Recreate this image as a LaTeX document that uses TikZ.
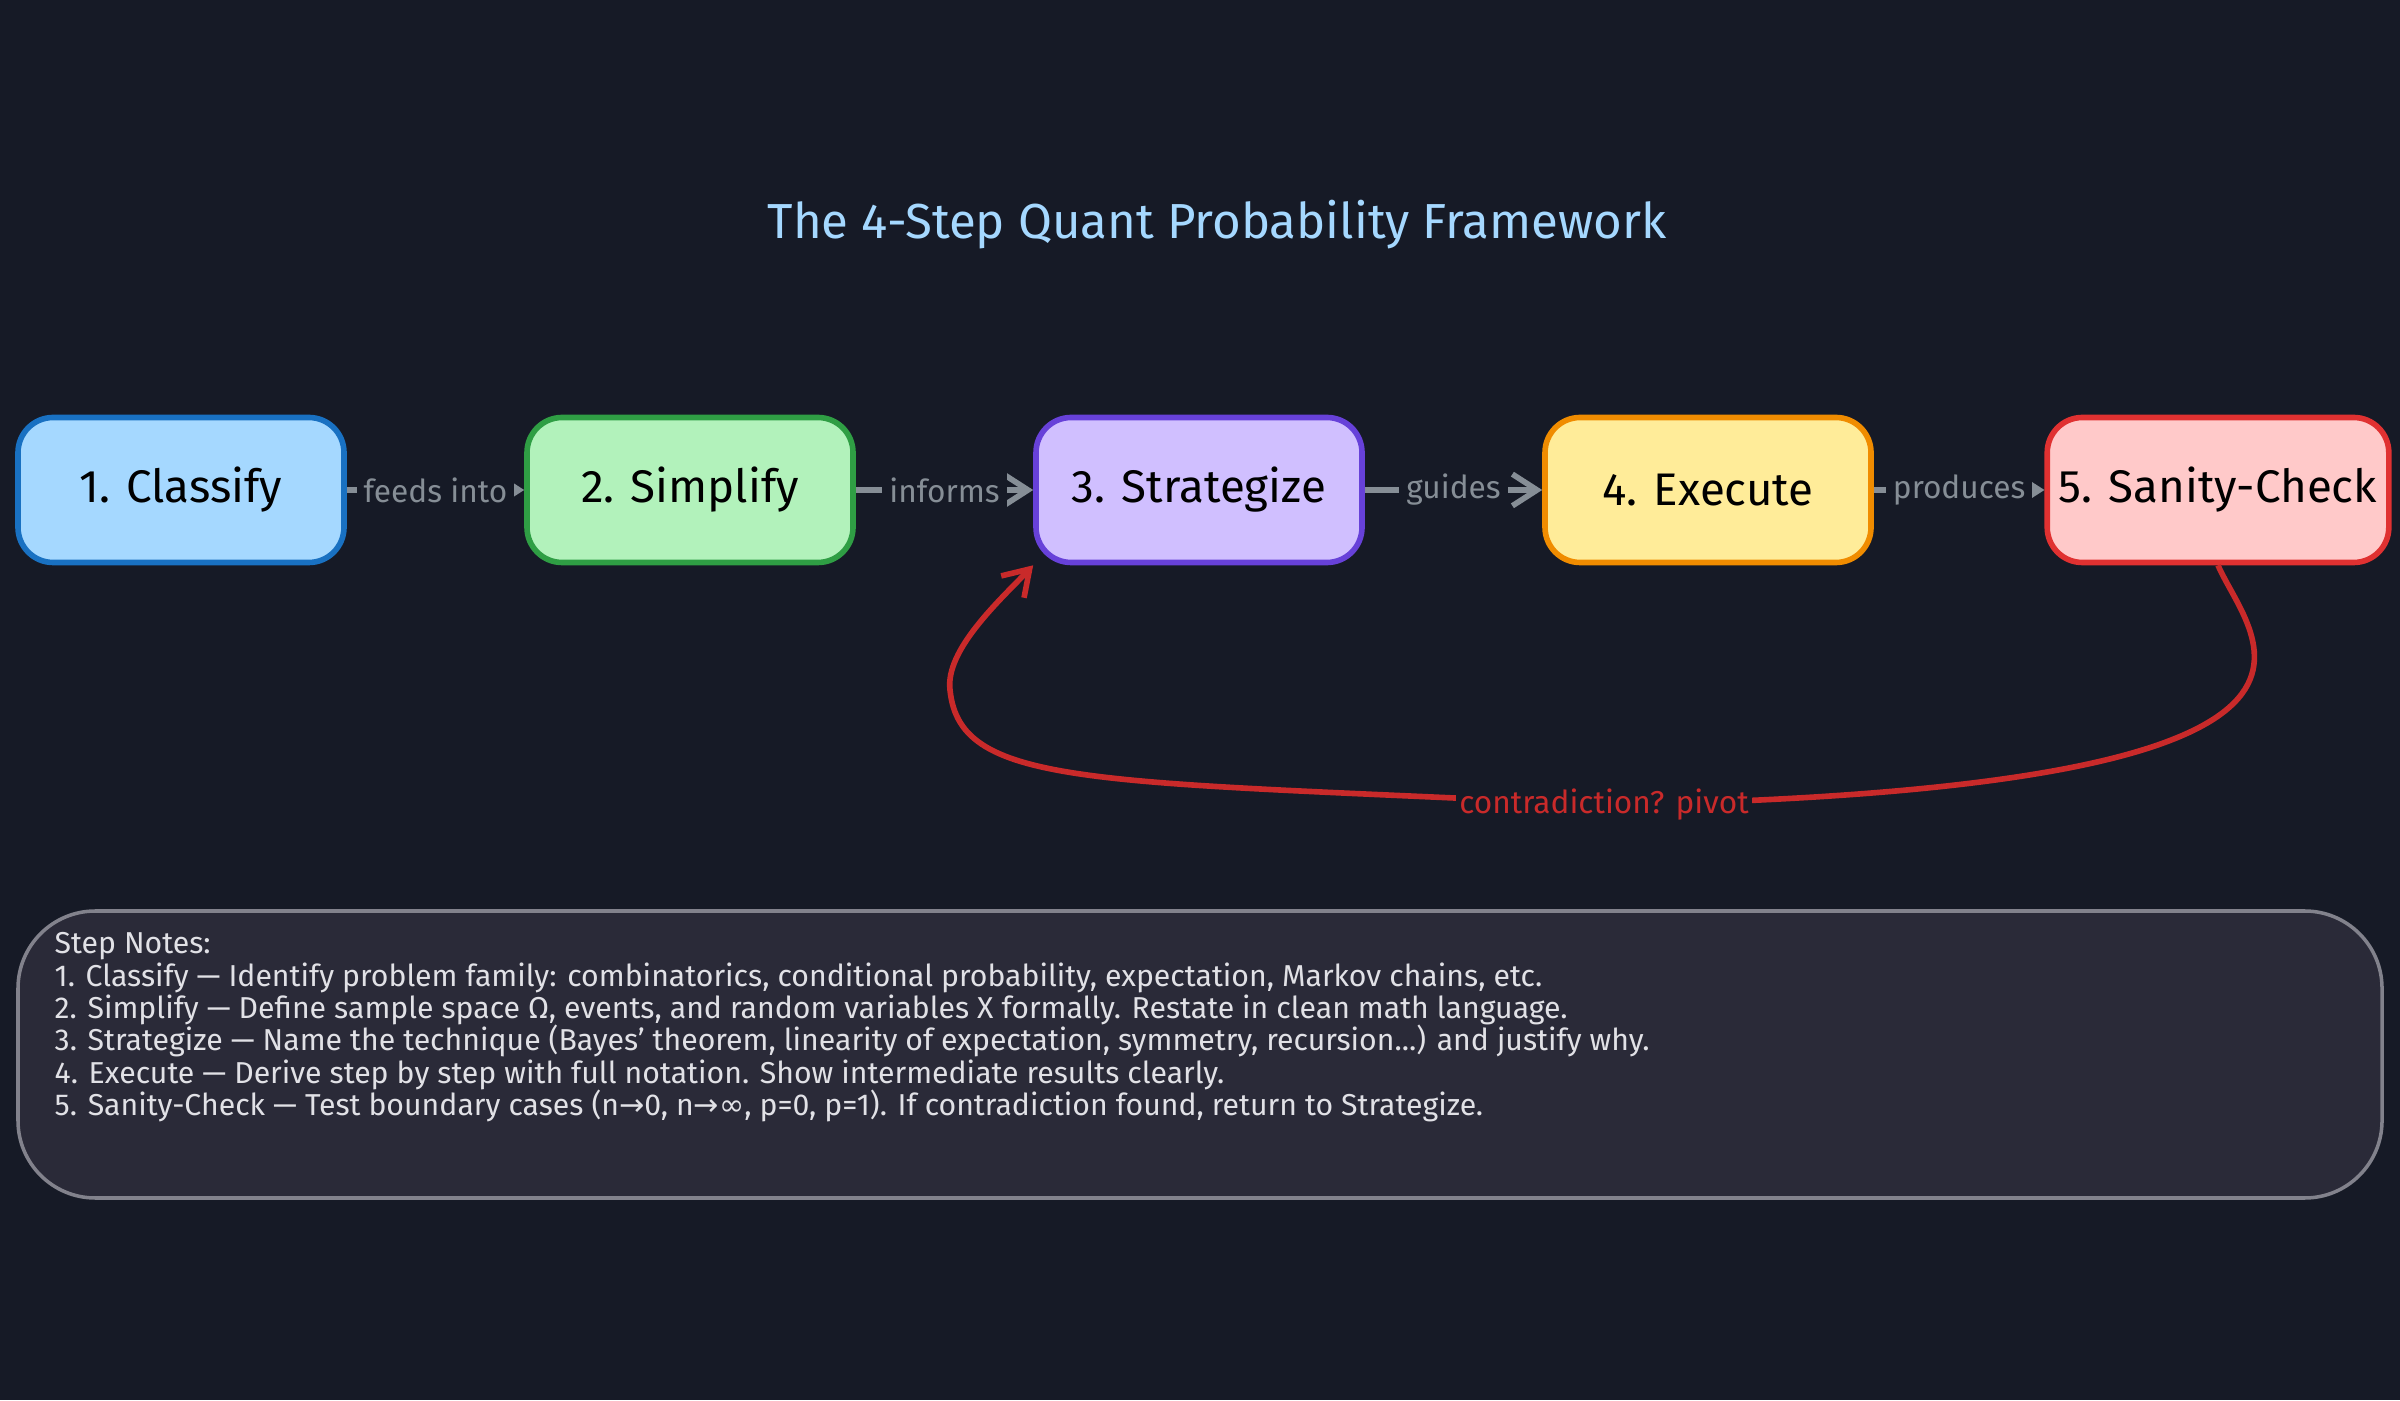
\documentclass[tikz,border=0pt]{standalone}
\usepackage{fontspec}
\setmainfont{Fira Sans}
\newfontfamily\djv{DejaVu Sans}
\usetikzlibrary{arrows.meta}
\definecolor{bg}{HTML}{161A26}
\definecolor{arr}{HTML}{868E96}
\definecolor{nfill}{HTML}{2A2A38}
\definecolor{f1}{HTML}{A5D8FF}\definecolor{d1}{HTML}{1971C2}
\definecolor{f2}{HTML}{B2F2BB}\definecolor{d2}{HTML}{2F9E44}
\definecolor{f3}{HTML}{D0BFFF}\definecolor{d3}{HTML}{6741D9}
\definecolor{f4}{HTML}{FFEC99}\definecolor{d4}{HTML}{F08C00}
\definecolor{f5}{HTML}{FFC9C9}\definecolor{d5}{HTML}{E03131}
\definecolor{loopc}{HTML}{C92A2A}
\definecolor{nbord}{HTML}{82828C}
\definecolor{ntext}{HTML}{E1E1E6}
\begin{document}
\begin{tikzpicture}[
  stepbox/.style={draw, line width=1.6pt, rounded corners=10pt, minimum width=3.26cm, minimum height=1.45cm, font=\fontsize{13}{15}\selectfont, text=black},
  flow/.style={draw=arr, line width=1.6pt, -{Straight Barb[length=7pt,width=9pt]}},
  lab/.style={fill=bg, text=arr, font=\fontsize{9}{11}\selectfont, inner sep=2pt}
]
\fill[bg] (0,0) rectangle (24,14);
\useasboundingbox (0,0) rectangle (24,14);
\node[text=f1, font=\fontsize{14}{16}\selectfont] (title) at (12.17,11.75) {The 4-Step Quant Probability Framework};
\node[stepbox, fill=f1, draw=d1] (s1) at (1.81,9.1) {1. Classify};
\node[stepbox, fill=f2, draw=d2] (s2) at (6.9,9.1) {2. Simplify};
\node[stepbox, fill=f3, draw=d3] (s3) at (11.99,9.1) {3. Strategize};
\node[stepbox, fill=f4, draw=d4] (s4) at (17.08,9.1) {4. Execute};
\node[stepbox, fill=f5, draw=d5] (s5) at (22.18,9.1) {5. Sanity-Check};
\draw[flow] (s1) -- node[lab]{feeds into} (s2);
\draw[flow] (s2) -- node[lab]{informs} (s3);
\draw[flow] (s3) -- node[lab]{guides} (s4);
\draw[flow] (s4) -- node[lab]{produces} (s5);
\coordinate (lp) at (16.04,5.95);
\draw[draw=loopc, line width=1.6pt, -{Straight Barb[length=7pt,width=9pt]}]
  (s5.south) .. controls (22.5,7.6) and (24.2,6.1) .. (lp)
  .. controls (11,6.2) and (9.6,6.1) .. (9.5,7.1)
  .. controls (9.45,7.5) and (10,8.0) .. (s3.south west);
\node[fill=bg, text=loopc, font=\fontsize{9}{11}\selectfont, inner sep=1pt] (lbl) at (lp) {contradiction? pivot};
\draw[draw=nbord, fill=nfill, line width=1pt, rounded corners=22pt] (0.18,2.02) rectangle (23.82,4.89);
\node[anchor=north west, align=left, text=ntext, font=\fontsize{8.6}{9.2}\selectfont, inner sep=0pt] (notes) at (0.54,4.68) {Step Notes:\\
1. Classify --- Identify problem family: combinatorics, conditional probability, expectation, Markov chains, etc.\\
2. Simplify --- Define sample space Ω, events, and random variables X formally. Restate in clean math language.\\
3. Strategize --- Name the technique (Bayes' theorem, linearity of expectation, symmetry, recursion...) and justify why.\\
4. Execute --- Derive step by step with full notation. Show intermediate results clearly.\\
5. Sanity-Check --- Test boundary cases (n{\djv →}0, n{\djv →∞}, p=0, p=1). If contradiction found, return to Strategize.};
\end{tikzpicture}
\end{document}
